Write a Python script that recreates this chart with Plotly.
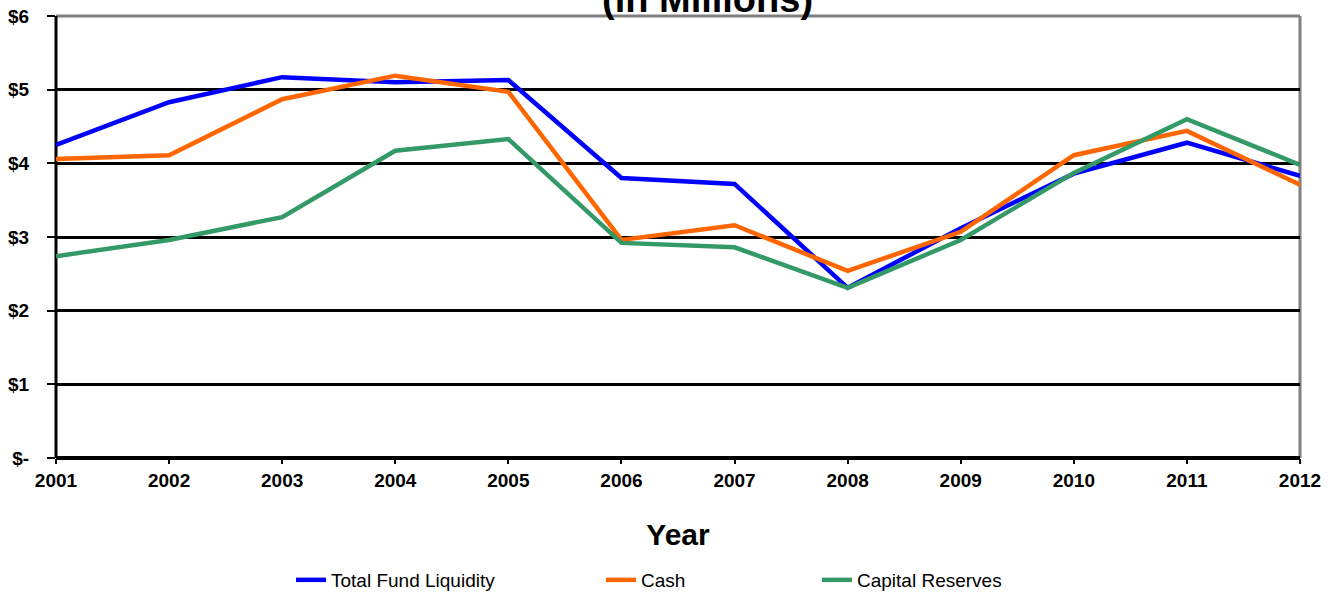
import plotly.graph_objects as go

years = [2001, 2002, 2003, 2004, 2005, 2006, 2007, 2008, 2009, 2010, 2011, 2012]
total_fund_liquidity = [4.25, 4.83, 5.17, 5.10, 5.13, 3.80, 3.72, 2.31, 3.12, 3.86, 4.28, 3.83]
cash = [4.06, 4.11, 4.87, 5.19, 4.97, 2.96, 3.16, 2.54, 3.07, 4.11, 4.44, 3.71]
capital_reserves = [2.74, 2.96, 3.27, 4.17, 4.33, 2.92, 2.86, 2.31, 2.96, 3.87, 4.60, 3.98]
y_ticks = [0, 1, 2, 3, 4, 5, 6]
y_tick_labels = ["$-", "$1", "$2", "$3", "$4", "$5", "$6"]

series = [
    ("Total Fund Liquidity", total_fund_liquidity, "#0000FF", "legend"),
    ("Cash", cash, "#FF6600", "legend2"),
    ("Capital Reserves", capital_reserves, "#339966", "legend3"),
]

FONT = "Liberation Sans, Arial, sans-serif"

fig = go.Figure()
for name, vals, color, lg in series:
    fig.add_trace(go.Scatter(x=years, y=vals, name=name, mode="lines",
                             line=dict(color=color, width=4.5), legend=lg))

W, H = 1334, 592
ml, mr, mt, mb = 56, 34, 16, 134
pw = W - ml - mr
ph = H - mt - mb

def leg(xpix):
    return dict(x=xpix / W, xref="container", xanchor="left",
                y=1 - 580 / H, yref="container", yanchor="middle",
                orientation="h", font=dict(family=FONT, size=19, color="#000"),
                bgcolor="rgba(0,0,0,0)", itemwidth=30)

fig.update_layout(
    width=W, height=H,
    margin=dict(l=ml, r=mr, t=mt, b=mb, autoexpand=False),
    paper_bgcolor="white", plot_bgcolor="white",
    showlegend=True,
    legend=leg(291),
    legend2=leg(601),
    legend3=leg(817),
    xaxis=dict(range=[2001, 2012], tickvals=years, ticktext=[str(y) for y in years],
               showgrid=False, zeroline=False, showline=False, automargin=False,
               ticks="outside", ticklen=5, tickwidth=2, tickcolor="black",
               tickfont=dict(family=FONT, size=19, color="black", weight="bold"),
               title=dict(text="Year", font=dict(family=FONT, size=30, color="black", weight="bold"),
                          standoff=34)),
    yaxis=dict(range=[0, 6], tickvals=y_ticks, ticktext=y_tick_labels,
               showgrid=True, gridcolor="black", gridwidth=3, automargin=False,
               zeroline=False, showline=False,
               ticks="outside", ticklen=8, tickwidth=2, tickcolor="black",
               ticklabelstandoff=14,
               tickfont=dict(family=FONT, size=19, color="black", weight="bold")),
)

# plot frame: grey top/right, black left/bottom
fig.add_shape(type="line", xref="paper", yref="paper", x0=0, x1=1, y0=1, y1=1,
              line=dict(color="#808080", width=3), layer="below")
fig.add_shape(type="line", xref="paper", yref="paper", x0=1, x1=1, y0=0, y1=1,
              line=dict(color="#808080", width=3), layer="below")
fig.add_shape(type="line", xref="paper", yref="paper", x0=0, x1=0, y0=0, y1=1,
              line=dict(color="black", width=3), layer="below")
fig.add_shape(type="line", xref="paper", yref="paper", x0=0, x1=1, y0=0, y1=0,
              line=dict(color="black", width=4), layer="above")

fig.add_annotation(text="(in Millions)", xref="paper", yref="paper",
                   x=(707 - ml) / pw, y=1, xanchor="center", yanchor="bottom", yshift=-6,
                   showarrow=False, font=dict(family=FONT, size=38, color="black", weight="bold"))

fig.write_html("out.html")
